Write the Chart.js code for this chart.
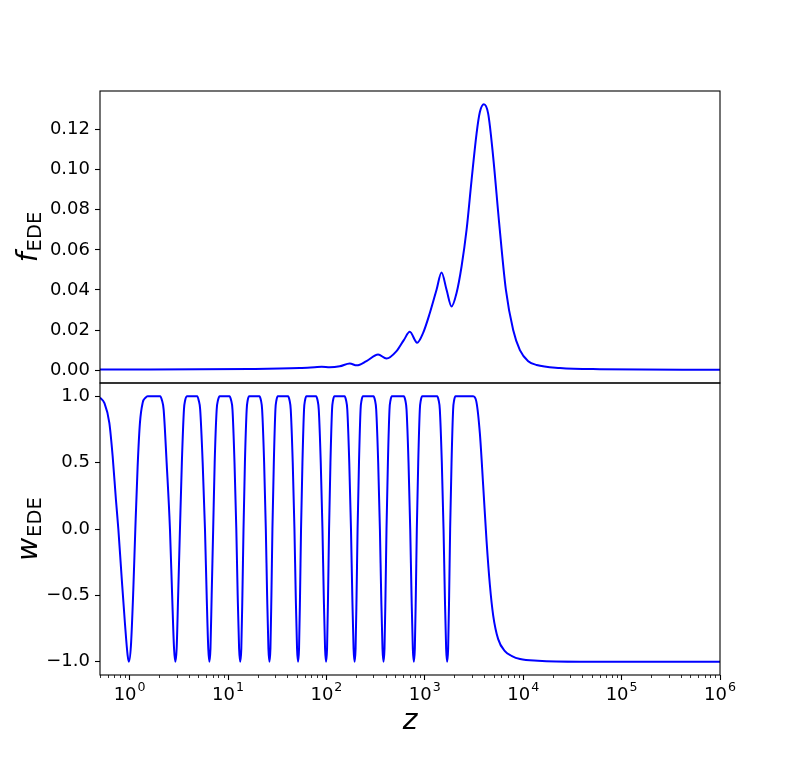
<!DOCTYPE html>
<html>
<head>
<meta charset="utf-8">
<script src="https://cdn.jsdelivr.net/npm/chart.js@4.4.0/dist/chart.umd.min.js"></script>
<style>
  html, body { margin: 0; padding: 0; background: #fff; }
  #wrap { position: relative; width: 800px; height: 758px; }
  #wrap canvas { position: absolute; left: 0; top: 0; }
</style>
</head>
<body>
<div id="wrap">
  <canvas id="fedeChart" width="800" height="758"></canvas>
  <canvas id="wedeChart" width="800" height="758"></canvas>
</div>
<script>
// f_EDE(z)
const fZ = [0.5, 1.597, 5.152, 16.61, 33.54, 53.57, 76.11, 89.67, 108.1, 136.7,
  172.8, 203.5, 255.4, 335.1, 407.9, 515.7, 611.7, 704.1, 835.3, 961.4,
  1125, 1316, 1479, 1663, 1869, 2102, 2363, 2656, 2987, 3357,
  3627, 3984, 4405, 4951, 5698, 6665, 7907, 9254, 11240, 13680, 23620, 60250, 1e6];
const fValues = [0.0003, 0.0003, 0.0004, 0.0006, 0.0008, 0.0011, 0.0015, 0.0017, 0.0014, 0.0019,
  0.0033, 0.0024, 0.0045, 0.0078, 0.0058, 0.0095, 0.0150, 0.0191, 0.0137, 0.0186,
  0.0285, 0.0401, 0.0487, 0.0401, 0.0318, 0.0385, 0.0517, 0.0699, 0.0948, 0.1180,
  0.1287, 0.1326, 0.1279, 0.1064, 0.0733, 0.0401, 0.0200, 0.0100, 0.0045, 0.0026, 0.0011, 0.0005, 0.0002];

// w_EDE(z) (dips to -1, plateaus at +1)
const wZ = [
  0.500, 0.553, 0.622, 0.672, 0.726, 0.768, 0.829, 0.896, 0.954, 0.984, 1.031, 1.090, 1.143, 1.206, 1.273, 1.356, 1.454, 1.525,
  2.043, 2.131, 2.217, 2.378, 2.570, 2.705, 2.828, 2.916, 3.006, 3.113, 3.248, 3.395, 3.566, 3.668, 3.844,
  4.859, 5.032, 5.212, 5.526, 5.832, 6.069, 6.300, 6.464, 6.633, 6.821, 7.067, 7.319, 7.671, 7.907, 8.228,
  10.35, 10.75, 11.10, 11.64, 12.14, 12.54, 12.96, 13.30, 13.65, 14.00, 14.37, 14.85, 15.48, 15.85, 16.42,
  20.84, 21.60, 22.21, 23.28, 24.22, 24.97, 25.74, 26.35, 26.98, 27.61, 28.27, 29.21, 30.32, 31.05, 32.08,
  40.72, 42.19, 43.40, 45.47, 47.32, 48.78, 50.29, 51.48, 52.71, 53.94, 55.22, 57.07, 59.24, 60.65, 62.67,
  78.44, 81.28, 83.60, 87.60, 91.16, 93.97, 96.87, 99.17, 101.5, 103.9, 106.4, 109.9, 114.1, 116.8, 120.7,
  152.9, 158.4, 163.0, 170.7, 177.7, 183.2, 188.8, 193.3, 197.9, 202.5, 207.4, 214.3, 222.4, 227.7, 235.3,
  300.8, 311.7, 320.6, 335.9, 349.6, 360.4, 371.5, 380.3, 389.3, 398.5, 408.0, 421.6, 437.6, 448.1, 463.0,
  611.7, 633.8, 651.9, 683.1, 710.8, 732.8, 755.4, 773.3, 791.7, 810.3, 829.5, 857.2, 889.8, 911.1, 941.4,
  1334, 1382, 1421, 1489, 1550, 1598, 1647, 1686, 1726, 1767, 1809, 1869, 1940, 1986, 2053,
  3100, 3341, 3627, 3918, 4242, 4583, 4951, 5566, 6513, 7600, 9300, 14110, 37710, 1e6];
const wValues = [
  0.99, 0.95, 0.80, 0.55, 0.22, 0.00, -0.36, -0.71, -0.95, -1.00, -0.88, -0.46, 0.00, 0.47, 0.80, 0.95, 0.99, 1.00,
  1, 0.97, 0.9, 0.5, 0, -0.5, -0.9, -1, -0.9, -0.5, 0, 0.5, 0.9, 0.97, 1,
  1, 0.97, 0.9, 0.5, 0, -0.5, -0.9, -1, -0.9, -0.5, 0, 0.5, 0.9, 0.97, 1,
  1, 0.97, 0.9, 0.5, 0, -0.5, -0.9, -1, -0.9, -0.5, 0, 0.5, 0.9, 0.97, 1,
  1, 0.97, 0.9, 0.5, 0, -0.5, -0.9, -1, -0.9, -0.5, 0, 0.5, 0.9, 0.97, 1,
  1, 0.97, 0.9, 0.5, 0, -0.5, -0.9, -1, -0.9, -0.5, 0, 0.5, 0.9, 0.97, 1,
  1, 0.97, 0.9, 0.5, 0, -0.5, -0.9, -1, -0.9, -0.5, 0, 0.5, 0.9, 0.97, 1,
  1, 0.97, 0.9, 0.5, 0, -0.5, -0.9, -1, -0.9, -0.5, 0, 0.5, 0.9, 0.97, 1,
  1, 0.97, 0.9, 0.5, 0, -0.5, -0.9, -1, -0.9, -0.5, 0, 0.5, 0.9, 0.97, 1,
  1, 0.97, 0.9, 0.5, 0, -0.5, -0.9, -1, -0.9, -0.5, 0, 0.5, 0.9, 0.97, 1,
  1, 0.97, 0.9, 0.5, 0, -0.5, -0.9, -1, -0.9, -0.5, 0, 0.5, 0.9, 0.97, 1,
  1, 0.96, 0.72, 0.33, -0.09, -0.42, -0.65, -0.83, -0.92, -0.955, -0.98, -0.993, -1, -1];

const fTicks = [0, 0.02, 0.04, 0.06, 0.08, 0.10, 0.12];
const wTicks = [-1, -0.5, 0, 0.5, 1];
const zMajorTicks = [1, 10, 100, 1e3, 1e4, 1e5, 1e6];
const zTickExponents = ['0', '1', '2', '3', '4', '5', '6'];

const Z_MIN = 0.5, Z_MAX = 1e6;
const FONT = '"DejaVu Sans"';
const BLUE = '#0000ff';

// minor ticks 2..9 x 10^n (plus 0.5..0.9 below 1)
const zMinorTicks = [];
for (let d = 0.1; d < Z_MAX; d *= 10) {
  for (let k = 2; k <= 9; k++) {
    const v = k * d;
    if (v >= Z_MIN && v <= Z_MAX) zMinorTicks.push(v);
  }
}

const minus = s => s.replace('-', '\u2212');

// matplotlib-ish frame, y label with subscript, log x ticks with superscripts
const mplAxes = {
  id: 'mplAxes',
  afterDraw(chart, args, opts) {
    const { ctx, chartArea: a } = chart;
    ctx.save();
    ctx.strokeStyle = '#000';
    ctx.lineWidth = 1.1;
    ctx.strokeRect(a.left, a.top, a.right - a.left, a.bottom - a.top);

    // y label, rotated
    ctx.save();
    ctx.translate(opts.labelX, (a.top + a.bottom) / 2);
    ctx.rotate(-Math.PI / 2);
    ctx.fillStyle = '#000';
    ctx.font = 'italic 28px ' + FONT;
    const w1 = ctx.measureText(opts.symbol).width;
    ctx.font = '19.5px ' + FONT;
    const w2 = ctx.measureText('EDE').width;
    const x0 = -(w1 + w2 + 1) / 2;
    ctx.font = 'italic 28px ' + FONT;
    ctx.fillText(opts.symbol, x0, 0);
    ctx.font = '19.5px ' + FONT;
    ctx.fillText('EDE', x0 + w1 + 1, opts.subDrop);
    ctx.restore();

    if (opts.showX) {
      const xs = chart.scales.x;
      ctx.lineWidth = 0.8;
      ctx.beginPath();
      zMinorTicks.forEach(v => {
        const px = Math.round(xs.getPixelForValue(v)) + 0.5;
        ctx.moveTo(px, a.bottom);
        ctx.lineTo(px, a.bottom + 3);
      });
      ctx.stroke();

      ctx.fillStyle = '#000';
      ctx.textBaseline = 'alphabetic';
      zMajorTicks.forEach((v, i) => {
        const px = xs.getPixelForValue(v);
        ctx.font = '18px ' + FONT;
        const wb = ctx.measureText('10').width;
        ctx.font = '12.6px ' + FONT;
        const we = ctx.measureText(zTickExponents[i]).width;
        const left = px - (wb + we + 1) / 2;
        ctx.font = '18px ' + FONT;
        ctx.fillText('10', left, 700);
        ctx.font = '12.6px ' + FONT;
        ctx.fillText(zTickExponents[i], left + wb + 1, 691);
      });

      ctx.font = 'italic 28px ' + FONT;
      ctx.textAlign = 'center';
      ctx.fillText('z', (a.left + a.right) / 2, 729);
    }
    ctx.restore();
  }
};

function yAxis(min, max, ticks, digits) {
  return {
    type: 'linear',
    min: min,
    max: max,
    afterFit: s => { s.width = 100; },
    afterBuildTicks: s => { s.ticks = ticks.map(v => ({ value: v })); },
    grid: { drawOnChartArea: false, drawTicks: true, tickLength: 5, tickColor: '#000', tickWidth: 1.1 },
    border: { display: false },
    ticks: {
      color: '#000',
      padding: 5,
      font: { family: 'DejaVu Sans', size: 18 },
      callback: v => minus(Number(v).toFixed(digits))
    }
  };
}

function makeChart(id, zs, vals, yOpts, padding, xOpts, axesOpts) {
  return new Chart(document.getElementById(id), {
    type: 'line',
    data: {
      datasets: [{
        data: zs.map((z, i) => ({ x: z, y: vals[i] })),
        borderColor: BLUE,
        borderWidth: 2,
        pointRadius: 0,
        cubicInterpolationMode: 'monotone',
        fill: false
      }]
    },
    options: {
      responsive: false,
      animation: false,
      devicePixelRatio: 1,
      layout: { padding: padding },
      scales: { x: xOpts, y: yOpts },
      plugins: {
        legend: { display: false },
        tooltip: { enabled: false },
        mplAxes: axesOpts
      }
    },
    plugins: [mplAxes]
  });
}

// upper panel: f_EDE
makeChart('fedeChart', fZ, fValues,
  yAxis(-0.0064, 0.1392, fTicks, 2),
  { top: 91, right: 80, bottom: 375, left: 0 },
  { type: 'logarithmic', min: Z_MIN, max: Z_MAX, display: false },
  { symbol: 'f', labelX: 37, subDrop: 4, showX: false });

// lower panel: w_EDE
makeChart('wedeChart', wZ, wValues,
  yAxis(-1.1, 1.1, wTicks, 1),
  { top: 383, right: 80, bottom: 0, left: 0 },
  {
    type: 'logarithmic',
    min: Z_MIN,
    max: Z_MAX,
    afterFit: s => { s.height = 83; },
    afterBuildTicks: s => { s.ticks = zMajorTicks.map(v => ({ value: v, major: true })); },
    grid: { drawOnChartArea: false, drawTicks: true, tickLength: 5, tickColor: '#000', tickWidth: 1.1 },
    border: { display: false },
    ticks: { display: false }
  },
  { symbol: 'w', labelX: 37, subDrop: 4, showX: true });
</script>
</body>
</html>
